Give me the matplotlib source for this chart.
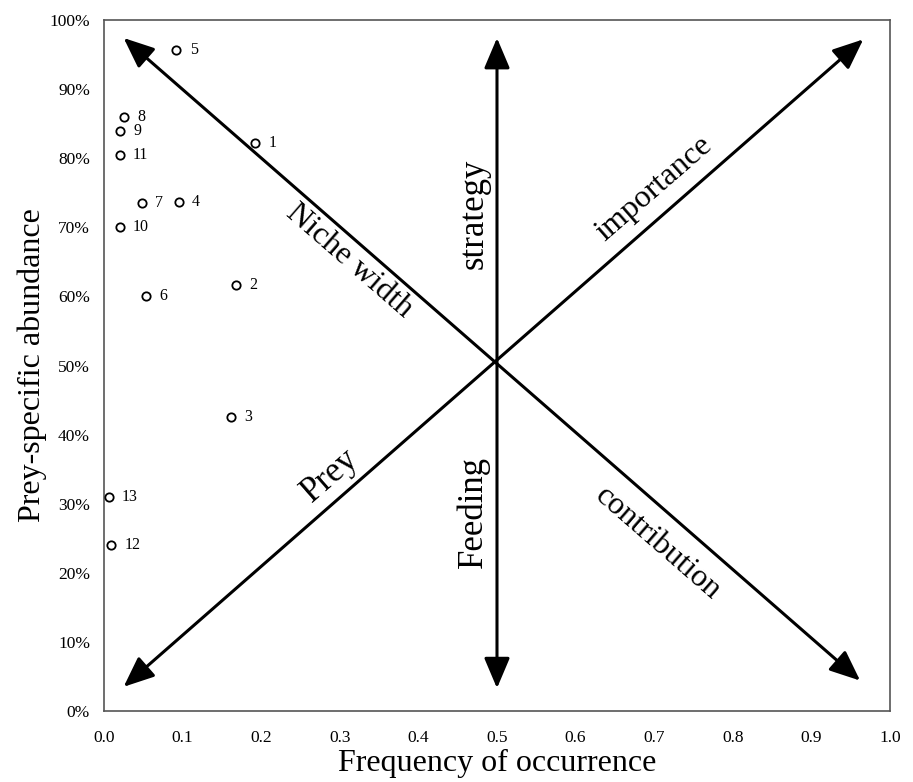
import matplotlib.pyplot as plt

# prey items: frequency of occurrence vs prey-specific abundance (%)
prey_ids = ["1", "2", "3", "4", "5", "6", "7", "8", "9", "10", "11", "12", "13"]
freq = [0.192, 0.168, 0.161, 0.095, 0.092, 0.054, 0.048, 0.026, 0.020, 0.020, 0.020, 0.009, 0.006]
abund = [82.2, 61.6, 42.6, 73.6, 95.6, 60.0, 73.5, 86.0, 83.9, 70.0, 80.5, 24.0, 31.0]

x_ticks = [0.0, 0.1, 0.2, 0.3, 0.4, 0.5, 0.6, 0.7, 0.8, 0.9, 1.0]
y_ticks = [0, 10, 20, 30, 40, 50, 60, 70, 80, 90, 100]

# interpretation arrows (double headed) and their labels
arrows = [((0.025, 97.4), (0.962, 4.4)),
          ((0.025, 3.5), (0.966, 97.2)),
          ((0.5, 3.3), (0.5, 97.4))]
labels = ["Niche width", "importance", "strategy", "Prey", "Feeding", "contribution"]
label_xy = [(0.312, 65.2), (0.700, 75.5), (0.471, 72.0), (0.288, 34.0), (0.470, 28.8), (0.705, 24.2)]
label_rot = [-41, 41, 90, 41, 90, -41]
label_size = [23, 23, 25, 25, 25, 23]

plt.rcParams['font.family'] = ['Liberation Serif', 'DejaVu Serif']

fig = plt.figure(figsize=(9.13, 7.82), dpi=100)
ax = fig.add_axes([0.1139, 0.0908, 0.8609, 0.8836])

for (x0, y0), (x1, y1) in arrows:
    ax.annotate("", xy=(x1, y1), xytext=(x0, y0),
                arrowprops=dict(arrowstyle="<|-|>,head_length=0.85,head_width=0.36",
                                color="black", lw=2.2, shrinkA=0, shrinkB=0,
                                mutation_scale=22))

ax.plot(freq, abund, "o", mfc="white", mec="black", ms=6, mew=1.3, zorder=3)
for i, lab in enumerate(prey_ids):
    ax.text(freq[i] + 0.017, abund[i], lab, fontsize=11.5, va="center", ha="left")

for txt, (tx, ty), rot, fs in zip(labels, label_xy, label_rot, label_size):
    ax.text(tx, ty, txt, fontsize=fs, rotation=rot, rotation_mode="anchor",
            ha="center", va="center")

ax.set_xlim(0, 1)
ax.set_ylim(0, 100)
ax.set_xticks(x_ticks)
ax.set_xticklabels([f"{v:.1f}" for v in x_ticks])
ax.set_yticks(y_ticks)
ax.set_yticklabels([f"{v}%" for v in y_ticks])
ax.tick_params(length=0, labelsize=12.5)
ax.tick_params(axis="x", pad=14)
ax.tick_params(axis="y", pad=10)
for s in ax.spines.values():
    s.set_color("#555555")
    s.set_linewidth(1.2)

ax.set_xlabel("Frequency of occurrence", fontsize=23, labelpad=2)
ax.set_ylabel("Prey-specific abundance", fontsize=23, labelpad=2)

fig.savefig("out.png", dpi=100)
